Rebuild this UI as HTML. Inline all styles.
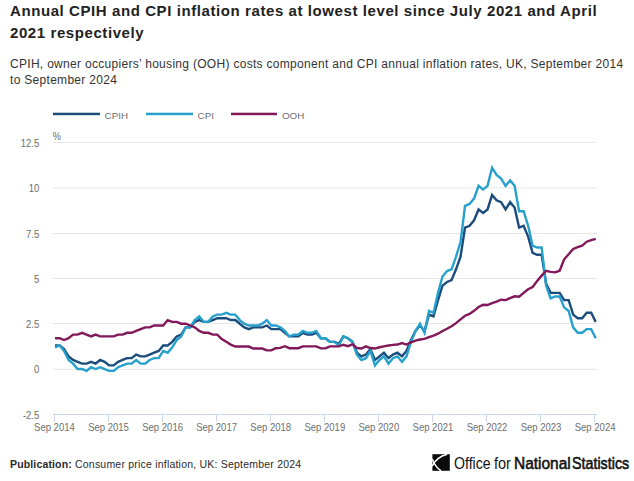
<!DOCTYPE html>
<html><head><meta charset="utf-8">
<style>
html,body{margin:0;padding:0;background:#fff;}
body{width:634px;height:481px;overflow:hidden;position:relative;font-family:"Liberation Sans",sans-serif;}
.t{position:absolute;left:10px;white-space:nowrap;color:#222;}
.title{font-weight:bold;font-size:15px;letter-spacing:0.585px;line-height:22px;}
.sub{font-size:12px;color:#333;letter-spacing:0.3px;line-height:16px;}
svg{position:absolute;left:0;top:0;}
.ons{position:absolute;top:453.8px;font-size:16.2px;color:#111;white-space:nowrap;transform-origin:0 0;}
svg text{font-family:"Liberation Sans",sans-serif;font-size:10.3px;fill:#6e6e6e;}
</style></head><body>
<div class="t title" id="t1" style="top:0px;">Annual CPIH and CPI inflation rates at lowest level since July 2021 and April</div>
<div class="t title" id="t2" style="top:22px;">2021 respectively</div>
<div class="t sub" id="s1" style="top:56px;">CPIH, owner occupiers’ housing (OOH) costs component and CPI annual inflation rates, UK, September 2014</div>
<div class="t sub" id="s2" style="top:72px;">to September 2024</div>
<svg width="634" height="481" viewBox="0 0 634 481">
<rect x="53" y="141.9" width="544" height="1" fill="#e6e6e6"/>
<rect x="53" y="187.4" width="544" height="1" fill="#e6e6e6"/>
<rect x="53" y="233.0" width="544" height="1" fill="#e6e6e6"/>
<rect x="53" y="278.0" width="544" height="1" fill="#e6e6e6"/>
<rect x="53" y="323.0" width="544" height="1" fill="#e6e6e6"/>
<rect x="53" y="368.8" width="544" height="1" fill="#e6e6e6"/>

<rect x="53" y="414" width="544.5" height="1" fill="#ccd6eb"/>
<rect x="54.0" y="414" width="1" height="8" fill="#ccd6eb"/>
<rect x="108.0" y="414" width="1" height="8" fill="#ccd6eb"/>
<rect x="162.0" y="414" width="1" height="8" fill="#ccd6eb"/>
<rect x="216.0" y="414" width="1" height="8" fill="#ccd6eb"/>
<rect x="270.0" y="414" width="1" height="8" fill="#ccd6eb"/>
<rect x="324.0" y="414" width="1" height="8" fill="#ccd6eb"/>
<rect x="378.0" y="414" width="1" height="8" fill="#ccd6eb"/>
<rect x="432.0" y="414" width="1" height="8" fill="#ccd6eb"/>
<rect x="486.0" y="414" width="1" height="8" fill="#ccd6eb"/>
<rect x="540.0" y="414" width="1" height="8" fill="#ccd6eb"/>
<rect x="594.0" y="414" width="1" height="8" fill="#ccd6eb"/>

<g><text transform="translate(54.4,431.2) scale(0.925,1)" text-anchor="middle">Sep 2014</text>
<text transform="translate(108.5,431.2) scale(0.925,1)" text-anchor="middle">Sep 2015</text>
<text transform="translate(162.6,431.2) scale(0.925,1)" text-anchor="middle">Sep 2016</text>
<text transform="translate(216.6,431.2) scale(0.925,1)" text-anchor="middle">Sep 2017</text>
<text transform="translate(270.7,431.2) scale(0.925,1)" text-anchor="middle">Sep 2018</text>
<text transform="translate(324.8,431.2) scale(0.925,1)" text-anchor="middle">Sep 2019</text>
<text transform="translate(378.8,431.2) scale(0.925,1)" text-anchor="middle">Sep 2020</text>
<text transform="translate(432.9,431.2) scale(0.925,1)" text-anchor="middle">Sep 2021</text>
<text transform="translate(487.0,431.2) scale(0.925,1)" text-anchor="middle">Sep 2022</text>
<text transform="translate(541.0,431.2) scale(0.925,1)" text-anchor="middle">Sep 2023</text>
<text transform="translate(595.1,431.2) scale(0.925,1)" text-anchor="middle">Sep 2024</text>
</g>
<g><text transform="translate(39.3,146.5) scale(0.925,1)" text-anchor="end">12.5</text>
<text transform="translate(39.3,192.0) scale(0.925,1)" text-anchor="end">10</text>
<text transform="translate(39.3,237.6) scale(0.925,1)" text-anchor="end">7.5</text>
<text transform="translate(39.3,282.6) scale(0.925,1)" text-anchor="end">5</text>
<text transform="translate(39.3,327.6) scale(0.925,1)" text-anchor="end">2.5</text>
<text transform="translate(39.3,373.4) scale(0.925,1)" text-anchor="end">0</text>
<text transform="translate(39.3,418.5) scale(0.925,1)" text-anchor="end">-2.5</text>
</g>
<text transform="translate(52.8,140.3) scale(0.9,1)" style="font-size:10.2px">%</text>
<!-- legend -->
<rect x="53" y="112.7" width="47" height="2.5" fill="#1b4c7b"/>
<text transform="translate(104.6,118.6) scale(1.0,1)" style="font-size:9.8px">CPIH</text>
<rect x="146" y="112.7" width="47" height="2.5" fill="#27a0cc"/>
<text transform="translate(197.6,118.6) scale(1.0,1)" style="font-size:9.8px">CPI</text>
<rect x="231" y="112.7" width="46" height="2.5" fill="#80185a"/>
<text transform="translate(282,118.6) scale(1.0,1)" style="font-size:9.8px">OOH</text>
<g fill="none" stroke-width="2.4" stroke-linejoin="miter" stroke-miterlimit="6" stroke-linecap="butt">
<path id="p-cpih" stroke="#1b4c7b" d="M55.05 345.47 L59.56 345.47 L64.06 349.10 L68.57 356.35 L73.07 359.98 L77.58 361.79 L82.08 363.61 L86.59 363.61 L91.09 361.79 L95.60 363.61 L100.10 359.98 L104.61 361.79 L109.11 365.42 L113.62 365.42 L118.13 361.79 L122.63 359.98 L127.14 358.17 L131.64 358.17 L136.15 354.54 L140.65 356.35 L145.16 356.35 L149.66 354.54 L154.17 352.72 L158.67 350.91 L163.18 345.47 L167.69 345.47 L172.19 341.84 L176.70 336.40 L181.20 334.58 L185.71 327.33 L190.21 327.33 L194.72 321.89 L199.22 320.07 L203.73 321.89 L208.23 321.89 L212.74 320.07 L217.24 318.26 L221.75 318.26 L226.26 318.26 L230.76 320.07 L235.27 320.07 L239.77 323.70 L244.28 327.33 L248.78 329.14 L253.29 327.33 L257.79 327.33 L262.30 327.33 L266.80 325.51 L271.31 329.14 L275.81 329.14 L280.32 329.14 L284.83 332.77 L289.33 336.40 L293.84 336.40 L298.34 336.40 L302.85 332.77 L307.35 334.58 L311.86 334.58 L316.36 332.77 L320.87 338.21 L325.37 338.21 L329.88 341.84 L334.38 341.84 L338.89 343.65 L343.40 336.40 L347.90 338.21 L352.41 341.84 L356.91 352.72 L361.42 356.35 L365.92 354.54 L370.43 349.10 L374.93 359.98 L379.44 356.35 L383.94 352.72 L388.45 358.17 L392.95 354.54 L397.46 352.72 L401.97 356.35 L406.47 350.91 L410.98 340.03 L415.48 330.96 L419.99 325.51 L424.49 330.96 L429.00 314.63 L433.50 316.44 L438.01 300.12 L442.51 285.61 L447.02 281.98 L451.53 280.16 L456.03 269.28 L460.54 256.58 L465.04 227.56 L469.55 225.74 L474.05 220.30 L478.56 209.42 L483.06 213.05 L487.57 209.42 L492.07 194.91 L496.58 200.35 L501.08 202.16 L505.59 209.42 L510.10 202.16 L514.60 207.60 L519.11 227.56 L523.61 225.74 L528.12 236.63 L532.62 252.95 L537.13 254.77 L541.63 254.77 L546.14 283.79 L550.64 292.86 L555.15 292.86 L559.65 292.86 L564.16 300.12 L568.67 300.12 L573.17 314.63 L577.68 318.26 L582.18 318.26 L586.69 312.82 L591.19 312.82 L595.70 321.89"/>
<path id="p-cpi" stroke="#27a0cc" d="M55.05 347.28 L59.56 345.47 L64.06 350.91 L68.57 359.98 L73.07 363.61 L77.58 369.05 L82.08 369.05 L86.59 370.86 L91.09 367.24 L95.60 369.05 L100.10 367.24 L104.61 369.05 L109.11 370.86 L113.62 370.86 L118.13 367.24 L122.63 365.42 L127.14 363.61 L131.64 363.61 L136.15 359.98 L140.65 363.61 L145.16 363.61 L149.66 359.98 L154.17 358.17 L158.67 358.17 L163.18 350.91 L167.69 352.72 L172.19 347.28 L176.70 340.03 L181.20 336.40 L185.71 327.33 L190.21 327.33 L194.72 320.07 L199.22 316.44 L203.73 321.89 L208.23 321.89 L212.74 316.44 L217.24 314.63 L221.75 314.63 L226.26 312.82 L230.76 314.63 L235.27 314.63 L239.77 320.07 L244.28 323.70 L248.78 325.51 L253.29 325.51 L257.79 325.51 L262.30 323.70 L266.80 320.07 L271.31 325.51 L275.81 325.51 L280.32 327.33 L284.83 330.96 L289.33 336.40 L293.84 334.58 L298.34 334.58 L302.85 330.96 L307.35 332.77 L311.86 332.77 L316.36 330.96 L320.87 338.21 L325.37 338.21 L329.88 341.84 L334.38 341.84 L338.89 345.47 L343.40 336.40 L347.90 338.21 L352.41 341.84 L356.91 354.54 L361.42 359.98 L365.92 358.17 L370.43 350.91 L374.93 365.42 L379.44 359.98 L383.94 356.35 L388.45 363.61 L392.95 358.17 L397.46 356.35 L401.97 361.79 L406.47 356.35 L410.98 341.84 L415.48 330.96 L419.99 323.70 L424.49 332.77 L429.00 311.00 L433.50 312.82 L438.01 292.86 L442.51 276.54 L447.02 271.09 L451.53 269.28 L456.03 256.58 L460.54 242.07 L465.04 205.79 L469.55 203.98 L474.05 198.53 L478.56 185.84 L483.06 189.46 L487.57 185.84 L492.07 167.70 L496.58 174.95 L501.08 178.58 L505.59 185.84 L510.10 180.39 L514.60 185.84 L519.11 211.23 L523.61 211.23 L528.12 225.74 L532.62 245.70 L537.13 247.51 L541.63 247.51 L546.14 285.61 L550.64 298.30 L555.15 296.49 L559.65 296.49 L564.16 307.37 L568.67 311.00 L573.17 327.33 L577.68 332.77 L582.18 332.77 L586.69 329.14 L591.19 329.14 L595.70 338.21"/>
<path id="p-ooh" stroke="#80185a" d="M55.05 338.21 L59.56 338.21 L64.06 340.03 L68.57 338.21 L73.07 334.58 L77.58 334.58 L82.08 332.77 L86.59 334.58 L91.09 336.40 L95.60 334.58 L100.10 336.40 L104.61 336.40 L109.11 336.40 L113.62 336.40 L118.13 334.58 L122.63 334.58 L127.14 332.77 L131.64 332.77 L136.15 330.96 L140.65 329.14 L145.16 327.33 L149.66 327.33 L154.17 325.51 L158.67 325.51 L163.18 325.51 L167.69 320.07 L172.19 321.89 L176.70 321.89 L181.20 323.70 L185.71 323.70 L190.21 325.51 L194.72 327.33 L199.22 330.96 L203.73 332.77 L208.23 332.77 L212.74 334.58 L217.24 334.58 L221.75 339.12 L226.26 341.84 L230.76 344.56 L235.27 346.56 L239.77 346.56 L244.28 346.56 L248.78 346.56 L253.29 348.55 L257.79 348.55 L262.30 348.55 L266.80 350.37 L271.31 350.37 L275.81 348.19 L280.32 347.83 L284.83 346.19 L289.33 348.19 L293.84 348.19 L298.34 348.19 L302.85 346.38 L307.35 346.38 L311.86 346.38 L316.36 346.38 L320.87 348.37 L325.37 348.37 L329.88 346.38 L334.38 346.38 L338.89 346.38 L343.40 344.74 L347.90 346.19 L352.41 344.38 L356.91 348.01 L361.42 348.55 L365.92 346.38 L370.43 348.01 L374.93 348.55 L379.44 347.28 L383.94 346.38 L388.45 345.47 L392.95 344.92 L397.46 344.56 L401.97 343.11 L406.47 344.56 L410.98 342.38 L415.48 340.57 L419.99 339.48 L424.49 338.94 L429.00 337.12 L433.50 335.67 L438.01 333.68 L442.51 330.96 L447.02 328.78 L451.53 326.24 L456.03 323.16 L460.54 319.35 L465.04 315.72 L469.55 313.90 L474.05 310.82 L478.56 307.01 L483.06 304.83 L487.57 305.02 L492.07 303.20 L496.58 301.57 L501.08 299.76 L505.59 300.12 L510.10 298.12 L514.60 296.31 L519.11 296.67 L523.61 292.86 L528.12 289.23 L532.62 287.06 L537.13 281.07 L541.63 275.63 L546.14 270.73 L550.64 271.82 L555.15 272.36 L559.65 270.73 L564.16 259.30 L568.67 254.22 L573.17 248.96 L577.68 247.15 L582.18 245.70 L586.69 241.71 L591.19 240.07 L595.70 238.80"/>
</g>
</svg>
<div class="t" id="pub" style="top:457.5px;font-size:10.5px;color:#2a2a2a;"><b style="letter-spacing:0.15px">Publication:</b><span style="position:absolute;left:65px;top:0;letter-spacing:0.21px">Consumer price inflation, UK: September 2024</span></div>
<div class="ons" style="left:453.7px;transform:scaleX(0.872)">Office</div>
<div class="ons" style="left:494.0px;transform:scaleX(0.893)">for</div>
<div class="ons" style="left:513.8px;transform:scaleX(0.955);-webkit-text-stroke:0.55px #111">National</div>
<div class="ons" style="left:571.8px;transform:scaleX(0.883);-webkit-text-stroke:0.55px #111">Statistics</div>
<svg width="634" height="481" viewBox="0 0 634 481" style="pointer-events:none">
<g id="logo">
<rect x="432.4" y="454.2" width="17.4" height="16.6" fill="#0a0a0a"/>
<path d="M447.2 454.2 Q436.3 457 432.2 466.2" stroke="#fff" stroke-width="1.5" fill="none"/>
<path d="M441 470.9 Q435.3 467 432.2 459" stroke="#fff" stroke-width="1.5" fill="none"/>
</g>
</svg>
</body></html>
